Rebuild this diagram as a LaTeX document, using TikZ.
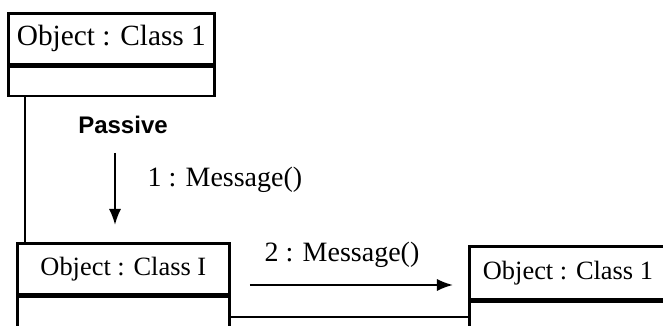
\documentclass[tikz,border=0pt]{standalone}
\usepackage{fontspec}
\setmainfont{Liberation Serif}
\newfontfamily\passivefont{Liberation Sans}
\usetikzlibrary{positioning}
\usetikzlibrary{arrows.meta}

\tikzset{
  objname/.style={draw, line width=1pt, minimum width=#1, minimum height=19.1pt, inner sep=0pt,
    font=\fontsize{9.9}{12}\selectfont},
  objbody/.style={draw, line width=1pt, minimum width=#1, minimum height=11pt, inner sep=0pt},
  link/.style={line width=1pt},
  msg/.style={line width=0.8pt, -{Latex[length=6pt,width=4.6pt]}},
  msglabel/.style={font=\fontsize{10.5}{12}\selectfont, inner sep=0pt},
}

\begin{document}
\begin{tikzpicture}[x=0.375pt, y=-0.375pt]
\clip (0,0) rectangle (663,326);

% objects
\node[objname=77.25pt, anchor=north west, font=\fontsize{11}{13}\selectfont] (obj1) at (7,12) {Object : Class 1};
\node[objbody=77.25pt, minimum height=10.9pt, below=0pt of obj1] (obj1low) {};

\node[objname=79.5pt, anchor=north west] (obj2) at (16,242) {Object : Class I};
\node[objbody=79.5pt, minimum height=11.25pt, below=0pt of obj2] (obj2low) {};

\node[objname=96pt, minimum height=19.9pt, anchor=north west] (obj3) at (468,245) {};
\node[objbody=96pt, minimum height=15pt, below=0pt of obj3] (obj3low) {};
\node[font=\fontsize{9.9}{12}\selectfont, inner sep=0pt, anchor=west, right=5.4pt of obj3.west] (obj3txt) {Object : Class 1};

% links
\coordinate (lnk1) at ([xshift=6.75pt]obj1low.south west);
\draw[link] (lnk1) -- (lnk1 |- obj2.north);
\coordinate (lnk2) at ([yshift=-1.9pt]obj2low.east);
\draw[link] (lnk2) -- (lnk2 -| obj3low.west);

% messages
\node[font=\passivefont\bfseries\fontsize{9}{11}\selectfont, inner sep=0pt] (passive) at (123,125) {Passive};
\coordinate (m1a) at (115,153);
\coordinate (m1b) at (115,225);
\draw[msg] (m1a) -- (m1b);
\node[msglabel, anchor=west] (m1) at (147,180) {1 : Message()};

\coordinate (m2a) at (250,285);
\coordinate (m2b) at (453,285);
\draw[msg] (m2a) -- (m2b);
\node[msglabel] (m2) at (342,255) {2 : Message()};
\end{tikzpicture}
\end{document}
